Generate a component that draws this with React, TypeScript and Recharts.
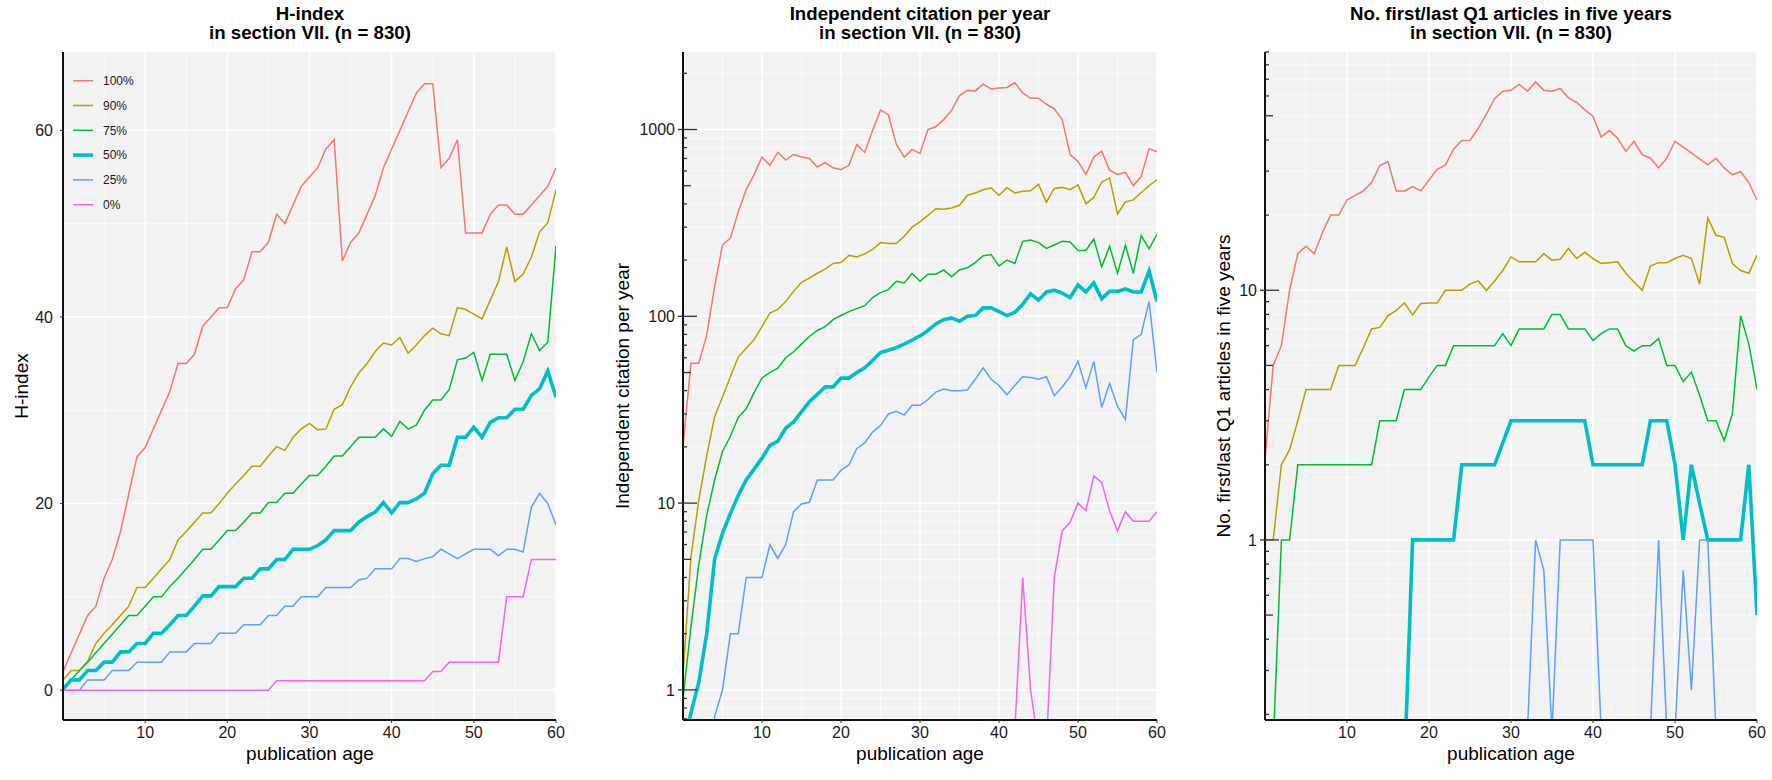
import React from 'react';
import { LineChart, Line, XAxis, YAxis, CartesianGrid } from 'recharts';

// publication age (x)
const AGES = [
  0, 1, 2, 3, 4, 5, 6, 7, 8, 9, 10, 11, 12, 13, 14, 15, 16, 17, 18, 19, 20,
  21, 22, 23, 24, 25, 26, 27, 28, 29, 30, 31, 32, 33, 34, 35, 36, 37, 38, 39, 40,
  41, 42, 43, 44, 45, 46, 47, 48, 49, 50, 51, 52, 53, 54, 55, 56, 57, 58, 59, 60,
];

const SERIES_NAMES = ['100%', '90%', '75%', '50%', '25%', '0%'];
const SERIES_COLORS = ['#F8766D', '#B79F00', '#00BA38', '#00BFC4', '#619CFF', '#F564E3'];
const SERIES_WIDTHS = [1.5, 1.5, 1.5, 3.6, 1.5, 1.5];

const X_TICKS = [10, 20, 30, 40, 50, 60];
const X_MINOR = [5, 15, 25, 35, 45, 55];

// ---- H-index ----
const H100 = [2, 4, 6, 8, 9, 12, 14, 17, 21, 25, 26, 28, 30, 32, 35, 35, 36, 39, 40, 41, 41, 43, 44, 47, 47, 48, 51, 50, 52, 54, 55, 56, 58, 59, 46, 48, 49, 51, 53, 56, 58, 60, 62, 64, 65, 65, 56, 57, 59, 49, 49, 49, 51, 52, 52, 51, 51, 52, 53, 54, 56];
const H90 = [1.1, 2.1, 2.1, 3.1, 5, 6.1, 7, 8, 9, 11, 11, 12, 13, 14, 16.1, 17, 18, 19, 19, 20, 21.1, 22.1, 23, 24, 24, 25.1, 26.1, 25.7, 27.1, 28, 28.6, 27.9, 28, 30.1, 30.6, 32.5, 34, 35, 36.3, 37.2, 37, 37.8, 36.1, 37, 38, 38.8, 38.2, 38, 41, 40.8, 40.3, 39.8, 41.8, 43.8, 47.5, 43.8, 44.6, 46.4, 49.1, 50.1, 53.6];
const H75 = [0.2, 1.1, 2.1, 3, 4, 5, 6, 7, 8, 8, 9, 10, 10, 11.1, 12, 13, 14, 15.1, 15.1, 16.1, 17.1, 17.1, 18, 19, 19, 20.1, 20.1, 21.1, 21.1, 22.1, 23, 23, 24, 25.1, 25.1, 26.1, 27.1, 27.1, 27.1, 28, 27.2, 28.8, 28, 28.4, 30, 31.1, 31.1, 32.2, 35.4, 35.6, 36.2, 33.2, 36, 36, 36, 33.2, 35.2, 38.2, 36.4, 37.3, 47.6];
const H50 = [0.1, 1.1, 1.1, 2.1, 2.1, 3, 3, 4.1, 4.1, 5, 5, 6.1, 6.1, 7, 8, 8, 9, 10.1, 10.1, 11.1, 11.1, 11.1, 12, 12, 13, 13, 14, 14, 15.1, 15.1, 15.1, 15.5, 16.1, 17.1, 17.1, 17.1, 18, 18.6, 19.1, 20.1, 19, 20.1, 20.1, 20.5, 21.1, 23.2, 24.1, 24.1, 27.1, 27.1, 28.2, 27.1, 28.7, 29.2, 29.2, 30.1, 30.1, 31.6, 32.3, 34.2, 31.4];
const H25 = [0, 0, 0, 1.1, 1.1, 1.1, 2.1, 2.1, 2.1, 3, 3, 3, 3, 4.1, 4.1, 4.1, 5, 5, 5, 6.1, 6.1, 6.1, 7, 7, 7, 8, 8, 9, 9, 10, 10, 10, 11, 11, 11, 11, 11.8, 12, 13, 13, 13, 14.1, 14.1, 13.8, 14.1, 14.3, 15.1, 14.6, 14.1, 14.6, 15.1, 15.1, 15.1, 14.4, 15.1, 15.1, 14.8, 19.6, 21.1, 20, 17.7];
const H0 = [0, 0, 0, 0, 0, 0, 0, 0, 0, 0, 0, 0, 0, 0, 0, 0, 0, 0, 0, 0, 0, 0, 0, 0, 0, 0, 1, 1, 1, 1, 1, 1, 1, 1, 1, 1, 1, 1, 1, 1, 1, 1, 1, 1, 1, 2, 2, 3, 3, 3, 3, 3, 3, 3, 10, 10, 10, 14, 14, 14, 14];
const H_TICKS = [0, 20, 40, 60];
const H_MINOR = [10, 30, 50];

// ---- Independent citation per year (log) ----
const C100 = [20, 56, 56, 79, 144, 241, 262, 363, 477, 574, 712, 643, 754, 686, 735, 712, 700, 630, 665, 624, 610, 643, 830, 754, 987, 1270, 1200, 835, 712, 780, 745, 1000, 1035, 1130, 1265, 1520, 1620, 1610, 1750, 1650, 1670, 1680, 1780, 1570, 1470, 1470, 1365, 1290, 1130, 735, 675, 575, 712, 765, 605, 575, 590, 500, 560, 790, 760];
const C90 = [1.2, 5.1, 10.4, 17.9, 29, 37, 47.5, 60.5, 67.5, 75, 88, 104, 109, 120, 136, 152, 160, 170, 179, 192, 194, 212, 208, 216, 228, 248, 245, 245, 268, 300, 320, 347, 377, 374, 380, 393, 445, 457, 476, 486, 445, 488, 457, 467, 470, 510, 408, 484, 490, 476, 505, 400, 433, 524, 550, 353, 410, 420, 460, 500, 540];
const C75 = [0.9, 2.16, 4.7, 8.6, 13.3, 18.9, 22.8, 28.8, 32, 39, 46.8, 50, 52.7, 60, 64.6, 71, 78, 84, 88, 96, 101, 106, 110, 114, 126, 134, 139, 154, 151, 170, 154, 168, 168, 177, 163, 177, 182, 194, 211, 214, 186, 200, 192, 252, 256, 248, 231, 241, 252, 250, 225, 225, 259, 184, 237, 170, 240, 170, 270, 230, 275];
const C50 = [0.5, 0.75, 1.1, 2, 5, 6.9, 8.8, 11, 13.3, 15.2, 17.4, 20.4, 21.4, 25.2, 27.2, 30.8, 34.9, 38.2, 41.9, 41.9, 46.7, 46.7, 50, 53, 58, 64, 65.8, 68, 71, 74.5, 78.5, 84, 91, 96, 98, 94, 100, 101, 111, 111, 106, 101, 105, 116, 132, 122, 135, 138, 133, 126, 147, 135, 151, 124, 136, 136, 140, 135, 135, 175, 120];
const C25 = [0.1, 0.1, 0.1, 0.1, 0.72, 1, 2, 2, 4, 4, 4, 6, 5.06, 6, 9, 9.9, 10.1, 13.3, 13.3, 13.3, 15, 16, 19.6, 21, 24, 26, 30, 31, 29.6, 33.4, 33.4, 35.8, 39.3, 40.8, 40, 40, 40.3, 46, 53, 46, 42.6, 38, 42.6, 47.5, 47, 46, 47.5, 37.6, 41.8, 47.5, 57.4, 41.5, 57.4, 32.5, 43.8, 33, 28, 75, 80, 120, 50];
const C0 = [0.1, 0.1, 0.1, 0.1, 0.1, 0.1, 0.1, 0.1, 0.1, 0.1, 0.1, 0.1, 0.1, 0.1, 0.1, 0.1, 0.1, 0.1, 0.1, 0.1, 0.1, 0.1, 0.1, 0.1, 0.1, 0.1, 0.1, 0.1, 0.1, 0.1, 0.1, 0.1, 0.1, 0.1, 0.1, 0.1, 0.1, 0.1, 0.1, 0.1, 0.1, 0.1, 0.6, 4, 1, 0.5, 0.5, 4, 7.1, 7.9, 10, 9.1, 14, 12.9, 9.1, 7.1, 9, 8, 8, 8, 9];
const C_TICKS = [0.7, 0.8, 0.9, 1, 2, 3, 4, 5, 6, 7, 8, 9, 10, 20, 30, 40, 50, 60, 70, 80, 90, 100, 200, 300, 400, 500, 600, 700, 800, 900, 1000, 2000];
const C_MAJOR = [1, 10, 100, 1000];

// ---- No. first/last Q1 articles in five years (log) ----
const Q100 = [2.1, 5, 6, 10, 14, 15, 14, 17, 20, 20, 23, 24, 25, 27, 31.6, 32.7, 25, 25, 26, 25, 27.6, 30.5, 31.7, 36.7, 39.8, 39.8, 44.5, 50.7, 58.5, 62.7, 63.2, 66.7, 62.7, 68.3, 63.2, 62.7, 64.3, 59, 56.6, 52.8, 49.8, 41.1, 43.6, 40.6, 36, 39.5, 34.9, 33.8, 30.9, 33.8, 39.5, 37.4, 35.5, 33.6, 31.8, 33.8, 30.9, 29, 29.9, 27, 23];
const Q90 = [1, 1, 2, 2.3, 3, 4, 4, 4, 4, 5, 5, 5, 5.9, 7, 7.1, 7.9, 8.3, 8.9, 7.96, 8.85, 8.9, 8.9, 10, 10, 10, 10.6, 10.9, 10, 10.9, 12, 13.6, 13, 13, 13, 14, 13.2, 13.3, 14.7, 13.4, 14.2, 13.4, 12.8, 12.9, 13, 11.7, 10.8, 10, 12.5, 12.9, 12.9, 13.4, 13.8, 13.4, 10.6, 19.5, 16.6, 16.3, 12.8, 12, 11.7, 13.8];
const Q75 = [0.1, 0.15, 1, 1, 2, 2, 2, 2, 2, 2, 2, 2, 2, 2, 3, 3, 3, 4, 4, 4, 4.5, 5, 5, 6, 6, 6, 6, 6, 6, 6.7, 6, 7, 7, 7, 7, 8, 8, 7, 7, 7, 6.3, 6.7, 7, 7, 6, 5.7, 6, 6, 6.4, 5, 5, 4.3, 4.7, 3.8, 3, 3, 2.5, 3.2, 7.9, 6.1, 4];
const Q50 = [0.1, 0.1, 0.1, 0.1, 0.1, 0.1, 0.1, 0.1, 0.1, 0.1, 0.1, 0.1, 0.1, 0.1, 0.1, 0.1, 0.1, 0.12, 1, 1, 1, 1, 1, 1, 2, 2, 2, 2, 2, 2.45, 3, 3, 3, 3, 3, 3, 3, 3, 3, 3, 2, 2, 2, 2, 2, 2, 2, 3, 3, 3, 2, 1, 2, 1.4, 1, 1, 1, 1, 1, 2, 0.5];
const Q25 = [0.17, 0.17, 0.17, 0.17, 0.17, 0.17, 0.17, 0.17, 0.17, 0.17, 0.17, 0.17, 0.17, 0.17, 0.17, 0.17, 0.17, 0.17, 0.17, 0.17, 0.17, 0.17, 0.17, 0.17, 0.17, 0.17, 0.17, 0.17, 0.17, 0.17, 0.17, 0.17, 0.17, 1, 0.755, 0.17, 1, 1, 1, 1, 1, 0.17, 0.17, 0.17, 0.17, 0.17, 0.17, 0.17, 1, 0.17, 0.17, 0.755, 0.25, 1, 1, 0.17, 0.17, 0.17, 0.17, 0.17, 0.17];
const Q0 = [0.1, 0.1, 0.1, 0.1, 0.1, 0.1, 0.1, 0.1, 0.1, 0.1, 0.1, 0.1, 0.1, 0.1, 0.1, 0.1, 0.1, 0.1, 0.1, 0.1, 0.1, 0.1, 0.1, 0.1, 0.1, 0.1, 0.1, 0.1, 0.1, 0.1, 0.1, 0.1, 0.1, 0.1, 0.1, 0.1, 0.1, 0.1, 0.1, 0.1, 0.1, 0.1, 0.1, 0.1, 0.1, 0.1, 0.1, 0.1, 0.1, 0.1, 0.1, 0.1, 0.1, 0.1, 0.1, 0.1, 0.1, 0.1, 0.1, 0.1, 0.1];
const Q_TICKS = [0.2, 0.3, 0.4, 0.5, 0.6, 0.7, 0.8, 0.9, 1, 2, 3, 4, 5, 6, 7, 8, 9, 10, 20, 30, 40, 50, 60, 70, 80, 90];
const Q_MAJOR = [1, 10];

const FONT = '"Liberation Sans", Arial, Helvetica, sans-serif';
const PANEL_BG = '#F2F2F2';
const INK = '#1a1a1a';

function buildRows(series: number[][]) {
  return AGES.map((age, i) => {
    const row: any = { age };
    series.forEach((s, k) => {
      row['s' + k] = s[i];
    });
    return row;
  });
}

function LogTick(props: any) {
  const { y, payload, axisX } = props;
  const v = Number(payload?.value);
  const e = Math.log10(v);
  const major = Math.abs(e - Math.round(e)) < 1e-6;
  const e5 = Math.log10(v / 5);
  const mid = !major && Math.abs(e5 - Math.round(e5)) < 1e-6;
  const inner = major ? 14 : mid ? 8 : 4;
  return (
    <g>
      <line x1={major ? axisX - 5 : axisX} x2={axisX + inner} y1={y} y2={y} stroke="#333" strokeWidth={1.3} />
      {major && (
        <text x={axisX - 8} y={y} dy="0.36em" textAnchor="end" fontSize={16} fill={INK}>
          {v}
        </text>
      )}
    </g>
  );
}

type PanelProps = {
  left: number;
  width: number;
  yWidth: number;
  rightPad: number;
  series: number[][];
  log: boolean;
  domain: [number, number];
  ticks: number[];
  major: number[];
  minor: number[];
};

function Panel({ left, width, yWidth, rightPad, series, log, domain, ticks, major, minor }: PanelProps) {
  const rows = buildRows(series);
  return (
    <div style={{ position: 'absolute', left, top: 0 }}>
      <LineChart width={width} height={780} data={rows} margin={{ top: 52, right: rightPad, bottom: 0, left: 0 }}>
        <CartesianGrid fill={PANEL_BG} stroke="#FFFFFF" strokeWidth={0.7} horizontalValues={minor} verticalValues={X_MINOR} />
        <CartesianGrid stroke="#FFFFFF" strokeWidth={1.5} horizontalValues={major} verticalValues={X_TICKS} />
        <XAxis
          type="number"
          dataKey="age"
          domain={[0, 60]}
          ticks={X_TICKS}
          interval={0}
          allowDataOverflow
          height={60}
          tickSize={3}
          tickMargin={4}
          tick={{ fontSize: 16, fill: INK }}
          tickLine={{ stroke: '#333' }}
          axisLine={{ stroke: '#111', strokeWidth: 2 }}
        />
        {log ? (
          <YAxis
            type="number"
            scale="log"
            domain={domain}
            ticks={ticks}
            interval={0}
            allowDataOverflow
            width={yWidth}
            tickLine={false}
            tick={(p: any) => <LogTick {...p} axisX={yWidth} />}
            axisLine={{ stroke: '#111', strokeWidth: 2 }}
          />
        ) : (
          <YAxis
            type="number"
            domain={domain}
            ticks={ticks}
            interval={0}
            allowDataOverflow
            width={yWidth}
            tickSize={3}
            tickMargin={7}
            tick={{ fontSize: 16, fill: INK }}
            tickLine={{ stroke: '#333' }}
            axisLine={{ stroke: '#111', strokeWidth: 2 }}
          />
        )}
        {SERIES_NAMES.map((name, k) => (
          <Line
            key={name}
            type="linear"
            dataKey={'s' + k}
            name={name}
            stroke={SERIES_COLORS[k]}
            strokeWidth={SERIES_WIDTHS[k]}
            dot={false}
            activeDot={false}
            isAnimationActive={false}
          />
        ))}
      </LineChart>
    </div>
  );
}

const TITLES = ['H-index', 'Independent citation per year', 'No. first/last Q1 articles in five years'];
const SUBTITLE = 'in section VII. (n = 830)';
const Y_LABELS = ['H-index', 'Independent citation per year', 'No. first/last Q1 articles in five years'];
const X_LABEL = 'publication age';

export default function App() {
  const centers = [310, 920, 1511];
  const yLabelX = [21.5, 622, 1223];
  return (
    <div style={{ position: 'absolute', left: 0, top: 0, width: 1772, height: 780, background: '#fff', fontFamily: FONT, overflow: 'hidden' }}>
      <Panel left={0} width={580} yWidth={63} rightPad={24} series={[H100, H90, H75, H50, H25, H0]} log={false} domain={[-3.2, 68.4]} ticks={H_TICKS} major={H_TICKS} minor={H_MINOR} />
      <Panel left={600} width={580} yWidth={83} rightPad={23} series={[C100, C90, C75, C50, C25, C0]} log domain={[0.69, 2600]} ticks={C_TICKS} major={C_MAJOR} minor={C_TICKS} />
      <Panel left={1200} width={572} yWidth={65} rightPad={15} series={[Q100, Q90, Q75, Q50, Q25, Q0]} log domain={[0.19, 90]} ticks={Q_TICKS} major={Q_MAJOR} minor={Q_TICKS} />
      <svg width={1772} height={780} style={{ position: 'absolute', left: 0, top: 0, pointerEvents: 'none' }}>
        {TITLES.map((t, i) => (
          <g key={t}>
            <text x={centers[i]} y={19.5} textAnchor="middle" fontSize={18.7} fontWeight="bold" fill="#000">{t}</text>
            <text x={centers[i]} y={39.3} textAnchor="middle" fontSize={18.7} fontWeight="bold" fill="#000">{SUBTITLE}</text>
            <text x={centers[i]} y={760} textAnchor="middle" fontSize={19} fill="#000">{X_LABEL}</text>
            <text x={yLabelX[i]} y={386} dy="0.36em" textAnchor="middle" fontSize={19} fill="#000" transform={`rotate(-90, ${yLabelX[i]}, 386)`}>
              {Y_LABELS[i]}
            </text>
          </g>
        ))}
        {SERIES_NAMES.map((name, k) => (
          <g key={name}>
            <line x1={73} x2={93} y1={80.7 + k * 24.8} y2={80.7 + k * 24.8} stroke={SERIES_COLORS[k]} strokeWidth={SERIES_WIDTHS[k]} />
            <text x={103} y={80.7 + k * 24.8} dy="0.36em" fontSize={12} fill={INK}>{name}</text>
          </g>
        ))}
      </svg>
    </div>
  );
}
